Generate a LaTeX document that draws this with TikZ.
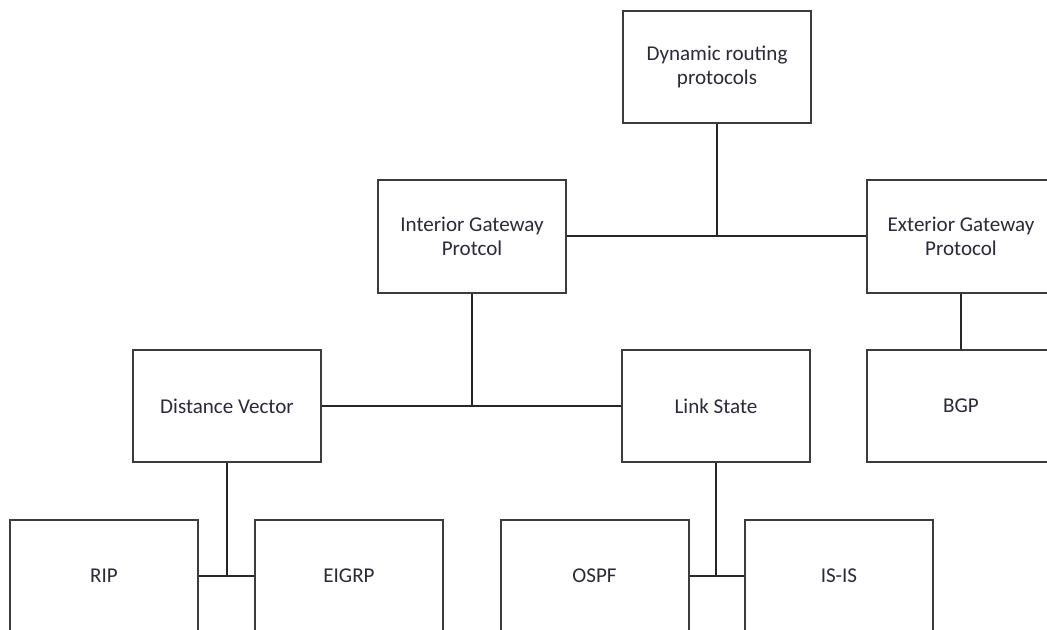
\documentclass[tikz,border=0pt]{standalone}
\usepackage{fontspec}
\setmainfont{Carlito}
\definecolor{edge}{HTML}{3C3C3C}
\definecolor{label}{HTML}{2A2A3A}
\begin{document}
\begin{tikzpicture}[x=0.75pt,y=-0.75pt,
  box/.style={draw=edge, line width=1.5pt, fill=white, rectangle,
    minimum width=141pt, minimum height=84.5pt, inner sep=0pt,
    align=center, text=label, font=\fontsize{15.8}{18}\selectfont},
  link/.style={draw=black!85, line width=1.5pt}]
\clip (0,0) rectangle (1047,630);
\fill[white] (0,0) rectangle (1047,630);

% boxes
\node[box] (dyn)   at (717,67)    {Dynamic routing\\protocols};
\node[box] (igp)   at (472,236.5) {Interior Gateway\\Protcol};
\node[box] (egp)   at (961,236.5) {Exterior Gateway\\Protocol};
\node[box] (dv)    at (227,406)   {Distance Vector};
\node[box] (ls)    at (716,406)   {Link State};
\node[box] (bgp)   at (961,406)   {BGP};
\node[box] (rip)   at (104,576)   {RIP};
\node[box] (eigrp) at (349,576)   {EIGRP};
\node[box] (ospf)  at (594.5,576) {OSPF};
\node[box] (isis)  at (839,576)   {IS-IS};

% connectors
\draw[link] (igp.east) -- (egp.west);
\draw[link] (dyn.south) -- (dyn.south |- igp.east);
\draw[link] (dv.east) -- (ls.west);
\draw[link] (igp.south) -- (igp.south |- dv.east);
\draw[link] (egp.south) -- (bgp.north);
\draw[link] (rip.east) -- (eigrp.west);
\draw[link] (dv.south) -- (dv.south |- rip.east);
\draw[link] (ospf.east) -- (isis.west);
\draw[link] (ls.south) -- (ls.south |- ospf.east);
\end{tikzpicture}
\end{document}
